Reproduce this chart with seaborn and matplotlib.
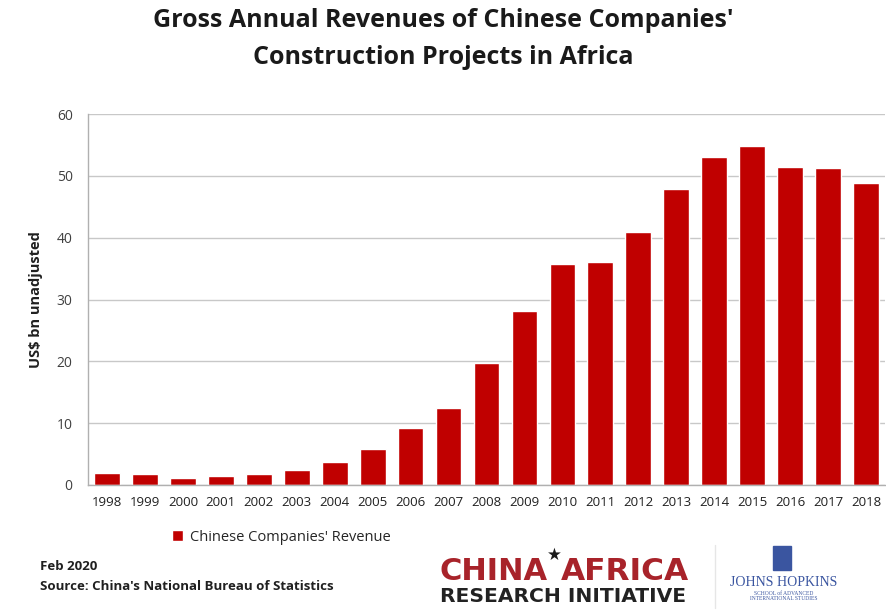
import numpy as np
import pandas as pd
import matplotlib
matplotlib.use("Agg")
import matplotlib.pyplot as plt
import seaborn as sns

# data
years = [str(y) for y in range(1998, 2019)]
revenue = [1.9, 1.7, 1.1, 1.4, 1.7, 2.4, 3.8, 5.9, 9.2, 12.4, 19.8,
           28.1, 35.8, 36.1, 40.9, 47.8, 53.0, 54.8, 51.5, 51.2, 48.8]
yticks = [0, 10, 20, 30, 40, 50, 60]

df = pd.DataFrame({"year": years, "revenue": revenue})

sns.set_theme(style="white")
plt.rcParams["font.family"] = ["Open Sans", "DejaVu Sans"]

W, H = 887, 613
fig = plt.figure(figsize=(W / 100, H / 100), dpi=100)
ax = fig.add_axes([88 / W, 1 - 485 / H, 797 / W, 371 / H])

sns.barplot(data=df, x="year", y="revenue", color="#C00000", saturation=1,
            width=0.68, ax=ax, label="Chinese Companies' Revenue")

ax.set_ylim(0, 60)
ax.set_xlim(-0.5, len(years) - 0.5)
ax.set_yticks(yticks)
ax.yaxis.grid(True, color="#c8c8c8", linewidth=1)
ax.set_axisbelow(True)
for s in ["top", "right"]:
    ax.spines[s].set_visible(False)
for s in ["left", "bottom"]:
    ax.spines[s].set_color("#b0b0b0")
    ax.spines[s].set_linewidth(1)
ax.tick_params(axis="y", length=6, color="#b0b0b0", labelsize=10, labelcolor="#404040", pad=5)
ax.tick_params(axis="x", which="major", length=0, labelsize=9.5, labelcolor="#202020", pad=8)
ax.set_xticks(np.arange(-0.5, len(years), 1), minor=True)
ax.tick_params(axis="x", which="minor", length=4, color="#b0b0b0")
ax.set_xlabel("")
ax.set_ylabel("US$ bn unadjusted", fontsize=10.5, fontweight="bold", color="#202020", labelpad=10)

ax.legend(loc="upper left", bbox_to_anchor=(71 / 797, -0.085), frameon=False,
          handlelength=0.75, handleheight=0.85, handletextpad=0.45,
          prop={"family": ["Open Sans", "DejaVu Sans"], "size": 10.5})

fig.text(0.5, 1 - 39 / H, "Gross Annual Revenues of Chinese Companies'\nConstruction Projects in Africa",
         ha="center", va="center", fontsize=18, fontweight="bold", color="#1a1a1a", linespacing=1.6)

fig.text(40 / W, 1 - 566 / H, "Feb 2020", fontsize=9.5, fontweight="bold", color="#202020", va="center")
fig.text(40 / W, 1 - 586 / H, "Source: China's National Bureau of Statistics", fontsize=9.5,
         fontweight="bold", color="#202020", va="center")

# logos drawn as text
logo_font = ["DejaVu Sans"]
fig.canvas.draw()
r = fig.canvas.get_renderer()
t1 = fig.text(440 / W, 1 - 572 / H, "CHINA", fontsize=22, fontweight="bold", color="#a8232a",
              va="center", family=logo_font)
x1 = t1.get_window_extent(r).x1
star = fig.text((x1 - 1) / W, 1 - 555 / H, "\u2605", fontsize=12, color="#1a1a1a", va="center", family="DejaVu Sans")
x2 = star.get_window_extent(r).x1
fig.text((x2 - 1) / W, 1 - 572 / H, "AFRICA", fontsize=22.5, fontweight="bold", color="#a8232a",
         va="center", family=logo_font)
fig.text(440 / W, 1 - 597 / H, "RESEARCH INITIATIVE", fontsize=14.6, fontweight="bold", color="#222222",
         va="center", family=logo_font)
fig.add_artist(plt.Line2D([715 / W, 715 / W], [1 - 608 / H, 1 - 545 / H], color="#e6e6e6", lw=1))
fig.add_artist(plt.Rectangle((773 / W, 1 - 570 / H), 18 / W, 24 / H, color="#3a55a0"))
fig.text(784 / W, 1 - 582 / H, "JOHNS HOPKINS", fontsize=10, color="#3a55a0", ha="center", va="center",
         family=["Liberation Serif", "DejaVu Serif"])
fig.text(784 / W, 1 - 596 / H, "SCHOOL of ADVANCED\nINTERNATIONAL STUDIES", fontsize=4, color="#3a55a0",
         ha="center", va="center", family=["Liberation Serif", "DejaVu Serif"])

fig.savefig("out.png", dpi=100)
